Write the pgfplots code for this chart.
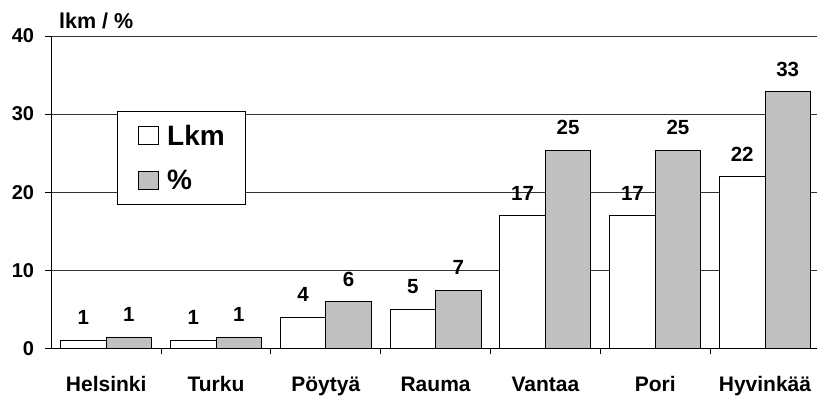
\documentclass[border=0pt]{standalone}
\usepackage{pgfplots}
\pgfplotsset{compat=1.18}
\usepackage{fontspec}
\setmainfont{Liberation Sans}
\definecolor{barg}{RGB}{192,192,192}
\begin{document}
\begin{tikzpicture}
\begin{axis}[
  scale only axis, width=768.6pt, height=312.3pt,
  at={(0pt,0pt)}, anchor=south west,
  xmin=-0.5, xmax=6.5, ymin=0, ymax=40,
  ybar=0pt, bar width=45.5pt,
  axis x line*=bottom, axis y line*=left,
  axis line style={-, line width=0.9pt, black},
  ytick={0,10,20,30,40},
  ymajorgrids, grid style={black!80, line width=0.7pt},
  xtick={0.5,1.5,2.5,3.5,4.5,5.5,6.5},
  xticklabels={Helsinki,Turku,Pöytyä,Rauma,Vantaa,Pori,Hyvinkää},
  tick align=outside, major tick length=6pt,
  tick style={black, line width=0.9pt},
  /pgf/number format/assume math mode=true,
  yticklabel style={font=\fontsize{20}{24}\selectfont\bfseries, inner sep=0pt, xshift=-11pt},
  xticklabel style={font=\fontsize{21}{25}\selectfont\bfseries, anchor=base, inner sep=0pt, xshift=-54.9pt, yshift=-37pt},
  title={lkm / \%},
  title style={at={(0,1)}, anchor=base west, inner sep=0pt, xshift=7.7pt, yshift=1.7pt, font=\fontsize{21.5}{25}\selectfont\bfseries},
  nodes near coords, point meta=explicit symbolic,
  every node near coord/.append style={font=\fontsize{20.5}{24}\selectfont\bfseries, anchor=base, inner sep=0pt, yshift=15.5pt},
  legend cell align=left,
  legend image code/.code={\draw[#1, line width=0.9pt] (0pt,-9pt) rectangle (19.5pt,9pt);},
  legend style={at={(0.0851,0.761)}, anchor=north west, draw=black, line width=0.8pt, fill=white,
    font=\fontsize{28}{33}\selectfont\bfseries, nodes={inner sep=0pt},
    inner xsep=21pt, inner ysep=14pt, row sep=22.8pt,
    /tikz/every odd column/.append style={column sep=8.7pt}},
]
\addplot[fill=white, draw=black, line width=0.9pt] coordinates {
  (0,1) [1] (1,1) [1] (2,4) [4] (3,5) [5] (4,17) [17] (5,17) [17] (6,22) [22]};
\addplot[fill=barg, draw=black, line width=0.9pt] coordinates {
  (0,1.45) [1] (1,1.45) [1] (2,5.97) [6] (3,7.46) [7] (4,25.37) [25] (5,25.37) [25] (6,32.84) [33]};
\legend{Lkm,\%}
\end{axis}
\pgfresetboundingbox
\path[use as bounding box] (-51.3pt,-47.7pt) rectangle (765.7pt,348.3pt);
\end{tikzpicture}
\end{document}
